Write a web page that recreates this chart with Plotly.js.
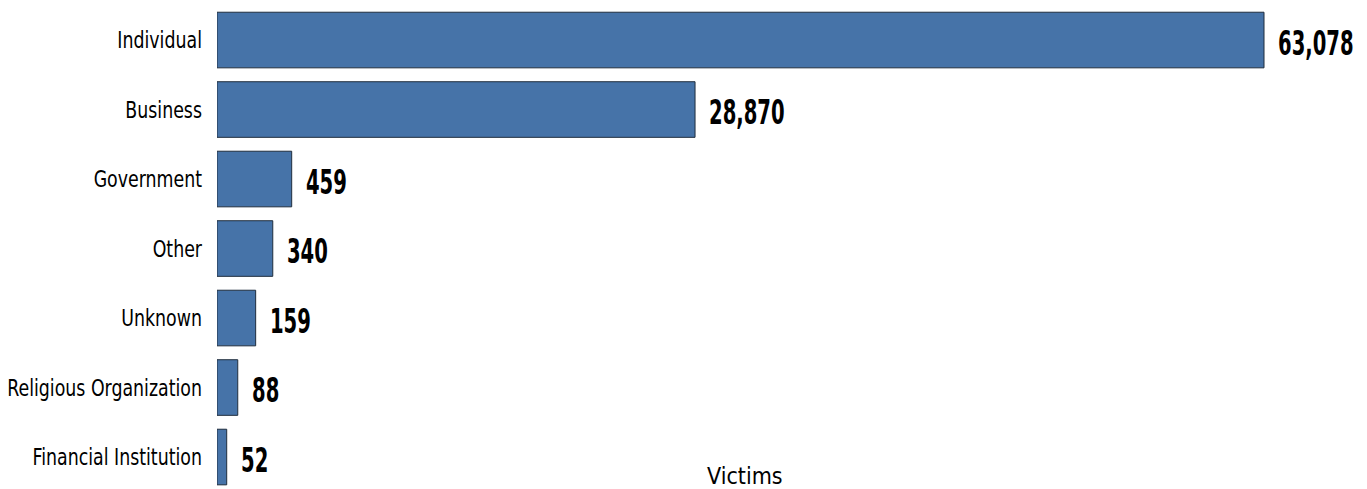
<!DOCTYPE html>
<html>
<head>
<meta charset="utf-8">
<script src="https://cdn.plot.ly/plotly-3.0.1.min.js"></script>
<style>html,body{margin:0;padding:0;background:#fff;}#chart{width:1367px;height:489px;}</style>
</head>
<body>
<div id="chart"></div>
<script>
// Victim categories (top to bottom)
const categories = ["Individual", "Business", "Government", "Other", "Unknown", "Religious Organization", "Financial Institution"];
// Victim counts as printed on the chart
const victims = [63078, 28870, 459, 340, 159, 88, 52];
// Bar lengths as drawn in the reference (the reference's bars are not proportional to the printed counts)
const barLength = [63078, 28800, 4500, 3360, 2330, 1250, 585];
const valueLabels = victims.map(v => v.toLocaleString("en-US"));

const labelFont = "'DejaVu Sans Condensed', 'DejaVu Sans', sans-serif";

const trace = {
  type: "bar",
  orientation: "h",
  x: barLength,
  y: categories,
  width: 0.8,
  marker: { color: "#4673a8", line: { color: "#1f2d3d", width: 1 } },
  hoverinfo: "skip"
};

const annotations = categories.map((c, i) => ({
  x: barLength[i], y: c, xref: "x", yref: "y",
  text: valueLabels[i],
  showarrow: false, xanchor: "left", yanchor: "middle",
  xshift: 12, yshift: -3,
  font: { family: labelFont, size: 33, color: "#000", weight: "bold" }
}));
annotations.push({
  text: "Victims", xref: "paper", yref: "paper", x: 0.5, y: 0,
  xanchor: "center", yanchor: "bottom", yshift: -2, showarrow: false,
  font: { family: labelFont, size: 23, color: "#000" }
});

const layout = {
  width: 1367, height: 489,
  margin: { l: 217, r: 94, t: 0, b: 0, pad: 0 },
  paper_bgcolor: "#fff", plot_bgcolor: "#fff",
  showlegend: false,
  bargap: 0.2,
  xaxis: { range: [0, 63620], showgrid: false, zeroline: false, showticklabels: false, ticks: "", showline: false },
  yaxis: {
    type: "category", categoryorder: "array", categoryarray: categories,
    range: [6.46, -0.576], showgrid: false, zeroline: false, showline: false, ticks: "",
    ticklabelstandoff: 14,
    tickfont: { family: labelFont, size: 23, color: "#000" }
  },
  annotations: annotations
};

// Horizontal condensing factors to imitate the reference's narrow typeface
const tickSqueeze = 0.84;
const valueSqueeze = 0.66;

function squeeze(el, f, keepLeft) {
  const w = el.getComputedTextLength();
  if (!w) return;
  el.setAttribute("lengthAdjust", "spacingAndGlyphs");
  el.setAttribute("textLength", (w * f).toFixed(2));
  if (keepLeft) {
    const x = parseFloat(el.getAttribute("x") || "0");
    el.setAttribute("x", (x - (1 - f) * w / 2).toFixed(2));
    // shrink the annotation's background box to the condensed text
    const g = el.closest(".annotation");
    if (g) {
      g.querySelectorAll("rect").forEach(r => {
        const rw = parseFloat(r.getAttribute("width") || "0");
        if (rw) r.setAttribute("width", Math.max(0, rw - (1 - f) * w).toFixed(2));
      });
    }
  }
}

Plotly.newPlot("chart", [trace], layout, { displayModeBar: false, staticPlot: true }).then(gd => {
  gd.querySelectorAll(".ytick text").forEach(t => squeeze(t, tickSqueeze, false));
  const annTexts = gd.querySelectorAll(".annotation-text");
  annTexts.forEach((t, i) => {
    if (i < categories.length) squeeze(t, valueSqueeze, true);
  });
});
</script>
</body>
</html>
